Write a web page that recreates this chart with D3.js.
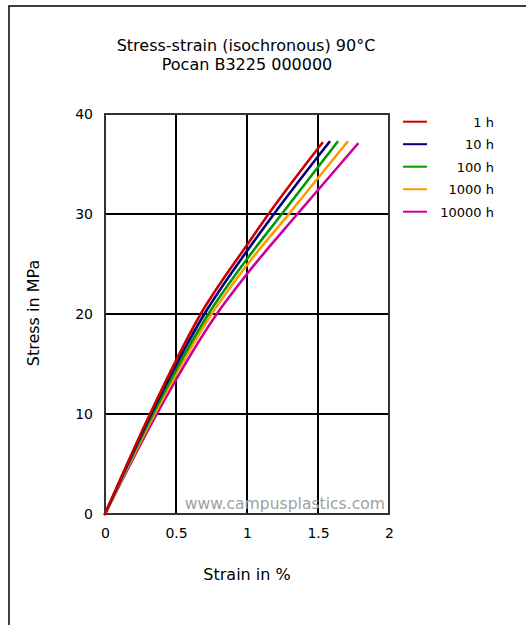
<!DOCTYPE html>
<html>
<head>
<meta charset="utf-8">
<script src="https://cdn.jsdelivr.net/npm/d3@7"></script>
<style>
  html, body { margin: 0; padding: 0; background: #fff; }
  svg { display: block; font-family: "DejaVu Sans", Verdana, sans-serif; }
</style>
</head>
<body>
<svg id="chart" width="526" height="625"></svg>
<script>
// Isochronous stress-strain curves, strain in %, stress in MPa
const seriesNames = ["1 h", "10 h", "100 h", "1000 h", "10000 h"];
const seriesColors = ["#cc0000", "#000080", "#009900", "#ff9900", "#cc0099"];

const strain1h     = [0, 0.317, 0.674, 1.00, 1.152, 1.530];
const stress1h     = [0, 10,    20,    26.9, 30,    37.1];
const strain10h    = [0, 0.325, 0.700, 1.00, 1.190, 1.580];
const stress10h    = [0, 10,    20,    26.3, 30,    37.2];
const strain100h   = [0, 0.338, 0.728, 1.00, 1.245, 1.636];
const stress100h   = [0, 10,    20,    25.5, 30,    37.2];
const strain1000h  = [0, 0.350, 0.751, 1.00, 1.295, 1.706];
const stress1000h  = [0, 10,    20,    24.9, 30,    37.2];
const strain10000h = [0, 0.364, 0.787, 1.00, 1.355, 1.779];
const stress10000h = [0, 10,    20,    24.0, 30,    37.0];

const xTicks = [0, 0.5, 1, 1.5, 2];
const yTicks = [0, 10, 20, 30, 40];

const strains = [strain1h, strain10h, strain100h, strain1000h, strain10000h];
const stresses = [stress1h, stress10h, stress100h, stress1000h, stress10000h];
const series = seriesNames.map((name, i) => ({
  name, color: seriesColors[i],
  points: strains[i].map((s, j) => [s, stresses[i][j]])
}));

const svg = d3.select("#chart");

// page frame (top and left edges)
svg.append("path")
  .attr("d", "M9,625 V6 H526")
  .attr("fill", "none").attr("stroke", "#000").attr("stroke-width", 1.5);

const plot = { left: 105, right: 389, top: 114, bottom: 514 };
const x = d3.scaleLinear().domain([0, 2]).range([plot.left, plot.right]);
const y = d3.scaleLinear().domain([0, 40]).range([plot.bottom, plot.top]);

// title
const title = svg.append("text").attr("text-anchor", "middle").attr("font-size", 16).attr("fill", "#000");
title.append("tspan").attr("x", 246).attr("y", 51).text("Stress-strain (isochronous) 90°C");
title.append("tspan").attr("x", 247).attr("y", 70).text("Pocan B3225 000000");

// grid
const grid = svg.append("g");
grid.selectAll("line.v").data(xTicks.slice(1, -1)).join("line")
  .attr("x1", d => x(d)).attr("x2", d => x(d))
  .attr("y1", plot.top).attr("y2", plot.bottom)
  .attr("stroke", "#000").attr("stroke-width", 2);
grid.selectAll("line.h").data(yTicks.slice(1, -1)).join("line")
  .attr("x1", plot.left).attr("x2", plot.right)
  .attr("y1", d => y(d)).attr("y2", d => y(d))
  .attr("stroke", "#000").attr("stroke-width", 2);

// watermark
svg.append("text")
  .attr("x", 385).attr("y", 509).attr("text-anchor", "end")
  .attr("font-size", 15.6).attr("fill", "#a0a0a0")
  .text("www.campusplastics.com");

// frame
svg.append("rect")
  .attr("x", plot.left).attr("y", plot.top)
  .attr("width", plot.right - plot.left).attr("height", plot.bottom - plot.top)
  .attr("fill", "none").attr("stroke", "#333").attr("stroke-width", 2);

// axes (labels only, frame is drawn above)
const xAxis = svg.append("g").attr("transform", `translate(0,${plot.bottom})`)
  .call(d3.axisBottom(x).tickValues(xTicks).tickSize(0).tickPadding(14).tickFormat(d3.format("")));
const yAxis = svg.append("g").attr("transform", `translate(${plot.left},0)`)
  .call(d3.axisLeft(y).tickValues(yTicks).tickSize(0).tickPadding(12));
[xAxis, yAxis].forEach(a => {
  a.select(".domain").remove();
  a.selectAll("text").attr("font-size", 14).attr("font-family", "DejaVu Sans, sans-serif").attr("fill", "#000");
});

// axis titles
svg.append("text").attr("x", 247).attr("y", 580).attr("text-anchor", "middle")
  .attr("font-size", 16).text("Strain in %");
svg.append("text").attr("transform", "translate(39,313) rotate(-90)").attr("text-anchor", "middle")
  .attr("font-size", 16).text("Stress in MPa");

// curves, longest duration first so the 1 h curve sits on top
const line = d3.line().x(d => x(d[0])).y(d => y(d[1])).curve(d3.curveMonotoneX);
svg.append("g").selectAll("path").data(series.slice().reverse()).join("path")
  .attr("d", d => line(d.points))
  .attr("fill", "none").attr("stroke", d => d.color)
  .attr("stroke-width", 2.6).attr("stroke-linecap", "round");

// legend
const legend = svg.append("g");
const lg = legend.selectAll("g").data(series).join("g")
  .attr("transform", (d, i) => `translate(0,${121.7 + i * 22.5})`);
lg.append("line").attr("x1", 403).attr("x2", 427).attr("y1", 0).attr("y2", 0)
  .attr("stroke", d => d.color).attr("stroke-width", 2);
lg.append("text").attr("x", 494).attr("y", 5).attr("text-anchor", "end")
  .attr("font-size", 13).text(d => d.name);
</script>
</body>
</html>
